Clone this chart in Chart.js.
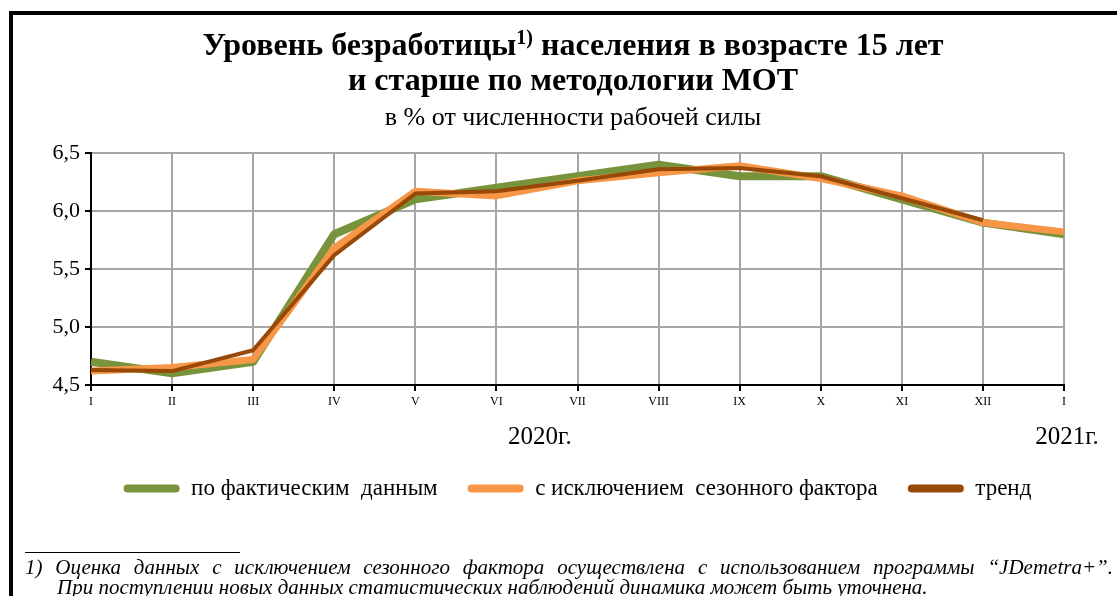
<!DOCTYPE html>
<html lang="ru">
<head>
<meta charset="utf-8">
<script src="https://cdn.jsdelivr.net/npm/chart.js@4.4.0/dist/chart.umd.min.js"></script>
<style>
    html, body { margin: 0; padding: 0; width: 1117px; height: 596px; overflow: hidden; background: #fff; font-family: "Liberation Serif", serif; color: #000; }
    #frame { position: absolute; left: 9px; top: 11px; width: 2000px; height: 2000px; border-top: 4px solid #000; border-left: 4px solid #000; }
    #chart-box { position: absolute; left: 0; top: 0; width: 1117px; height: 596px; }
    #title { position: absolute; left: 9px; top: 27px; width: 1128px; text-align: center; font-weight: bold; font-size: 32px; line-height: 35px; }
    #title sup { font-size: 20px; line-height: 0; vertical-align: 11px; }
    #subtitle { position: absolute; left: 9px; top: 103px; width: 1128px; text-align: center; font-size: 26px; line-height: 28px; }
    #note-rule { position: absolute; left: 25px; top: 552px; width: 215px; border-top: 1px solid #000; }
    .note { position: absolute; font-style: italic; font-size: 21px; line-height: 20px; white-space: nowrap; }
    #note1 { left: 25px; top: 557px; width: 1088px; text-align: justify; text-align-last: justify; }
    #note2 { left: 57px; top: 577px; }
</style>
</head>
<body>
<div id="frame"></div>
<div id="chart-box"><canvas id="unemployment-chart"></canvas></div>
<div id="title">Уровень безработицы<sup>1)</sup> населения в возрасте 15 лет<br>и старше по методологии МОТ</div>
<div id="subtitle">в % от численности рабочей силы</div>
<div id="note-rule"></div>
<div class="note" id="note1">1) Оценка данных с исключением сезонного фактора осуществлена с использованием программы “JDemetra+”.</div>
<div class="note" id="note2">При поступлении новых данных статистических наблюдений динамика может быть уточнена.</div>

<script>
// Месяцы и годы по оси X
var months = ['I', 'II', 'III', 'IV', 'V', 'VI', 'VII', 'VIII', 'IX', 'X', 'XI', 'XII', 'I'];
var years = ['2020г.', '2021г.'];
var yearSpans = [[0, 11], [12, 12]]; // первый и последний индекс месяцев года

// Ряды, % от численности рабочей силы
var actualData = [4.7, 4.6, 4.7, 5.8, 6.1, 6.2, 6.3, 6.4, 6.3, 6.3, 6.1, 5.9, 5.8];
var adjustedData = [4.62, 4.65, 4.72, 5.68, 6.17, 6.13, 6.26, 6.33, 6.39, 6.28, 6.13, 5.90, 5.82];
var trendData = [4.63, 4.62, 4.80, 5.62, 6.15, 6.17, 6.26, 6.36, 6.37, 6.30, 6.11, 5.92, null];

var seriesNames = ['по фактическим  данным', 'с исключением  сезонного фактора', 'тренд'];
var yTicks = [4.5, 5.0, 5.5, 6.0, 6.5];

var serif = '"Liberation Serif", "Times New Roman", serif';

// Подписи годов под подписями месяцев
var yearLabels = {
    id: 'yearLabels',
    afterDraw: function(chart) {
        var xScale = chart.scales.x;
        var ctx = chart.ctx;
        ctx.save();
        ctx.font = '25px ' + serif;
        ctx.fillStyle = '#000';
        ctx.textAlign = 'center';
        ctx.textBaseline = 'middle';
        years.forEach(function(label, i) {
            var mid = (yearSpans[i][0] + yearSpans[i][1]) / 2;
            ctx.fillText(label, xScale.getPixelForValue(mid) + 3, xScale.top + 52);
        });
        ctx.restore();
    }
};

function makeLine(label, data, color, width, order) {
    return {
        label: label,
        data: data,
        borderColor: color,
        backgroundColor: color,
        borderWidth: width,
        pointRadius: 0,
        tension: 0,
        borderJoinStyle: 'round',
        borderCapStyle: 'butt',
        order: order
    };
}

new Chart(document.getElementById('unemployment-chart'), {
    type: 'line',
    data: {
        labels: months,
        datasets: [
            makeLine(seriesNames[0], actualData, '#77933C', 8, 2),
            makeLine(seriesNames[1], adjustedData, '#F79646', 7, 1),
            makeLine(seriesNames[2], trendData, '#984807', 4, 0)
        ]
    },
    options: {
        responsive: true,
        maintainAspectRatio: false,
        animation: false,
        layout: { padding: { left: 11, right: 53, top: 153, bottom: 86 } },
        plugins: {
            tooltip: { enabled: false },
            title: { display: false },
            legend: {
                position: 'bottom',
                fullSize: false,
                labels: {
                    color: '#000',
                    font: { family: serif, size: 23 },
                    boxWidth: 56,
                    boxHeight: 8,
                    padding: 30,
                    useBorderRadius: true,
                    borderRadius: 4,
                    sort: function(a, b) { return a.datasetIndex - b.datasetIndex; },
                    generateLabels: function(chart) {
                        var items = Chart.defaults.plugins.legend.labels.generateLabels(chart);
                        items.forEach(function(item) {
                            item.fillStyle = item.strokeStyle;
                            item.lineWidth = 0;
                        });
                        return items;
                    }
                }
            }
        },
        scales: {
            x: {
                offset: false,
                ticks: { color: '#000', font: { family: serif, size: 12 }, padding: 4, maxRotation: 0, autoSkip: false },
                grid: { color: '#A6A6A6', lineWidth: 2, tickLength: 6, tickColor: '#000', offset: false },
                border: { color: '#000', width: 2 },
                afterFit: function(scale) { scale.height = 62; }
            },
            y: {
                min: yTicks[0],
                max: yTicks[yTicks.length - 1],
                ticks: {
                    stepSize: yTicks[1] - yTicks[0],
                    color: '#000',
                    font: { family: serif, size: 22 },
                    padding: 5,
                    callback: function(v) { return v.toFixed(1).replace('.', ','); }
                },
                grid: { color: '#A6A6A6', lineWidth: 2, tickLength: 6, tickColor: '#000' },
                border: { color: '#000', width: 2 },
                afterFit: function(scale) { scale.width = 80; }
            }
        }
    },
    plugins: [yearLabels]
});
</script>
</body>
</html>
